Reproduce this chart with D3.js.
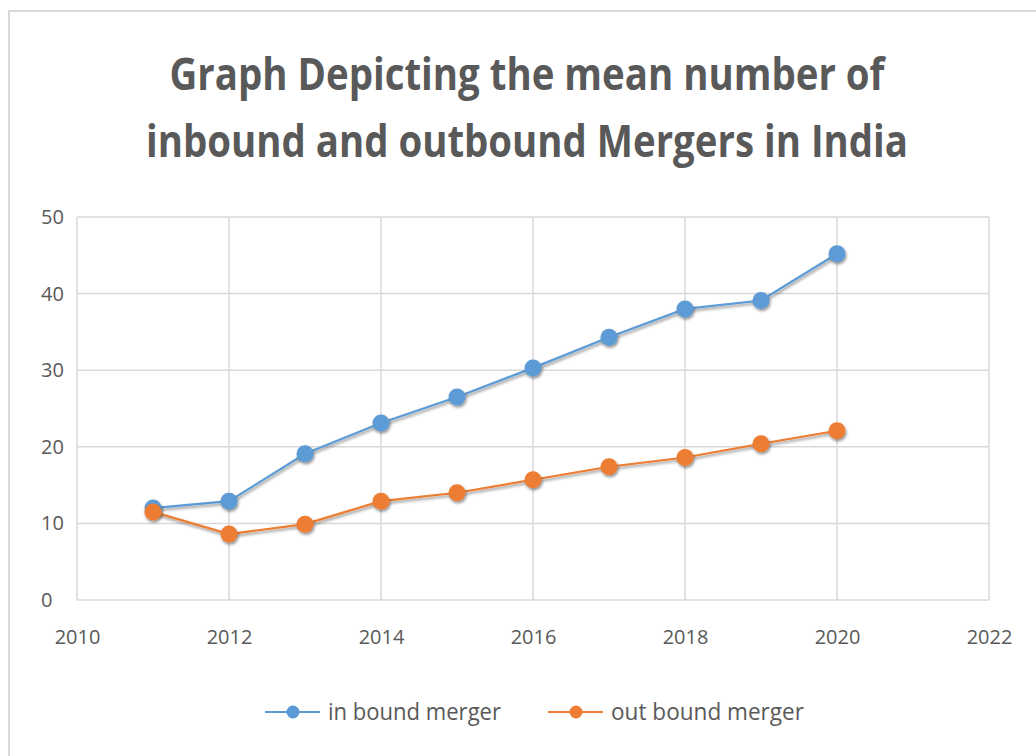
<!DOCTYPE html>
<html>
<head>
<meta charset="utf-8">
<script src="https://cdn.jsdelivr.net/npm/d3@7"></script>
<style>
  body { margin: 0; background: #fff; }
  text { font-family: "Open Sans", "DejaVu Sans", sans-serif; fill: #595959; }
</style>
</head>
<body>
<svg id="chart" width="1036" height="756"></svg>
<script>
var years = [2011, 2012, 2013, 2014, 2015, 2016, 2017, 2018, 2019, 2020];
var inbound = [12, 12.9, 19.1, 23.1, 26.5, 30.3, 34.3, 38, 39.1, 45.2];
var outbound = [11.5, 8.6, 9.9, 12.9, 14, 15.7, 17.4, 18.6, 20.4, 22.1];
var xTicks = [2010, 2012, 2014, 2016, 2018, 2020, 2022];
var yTicks = [0, 10, 20, 30, 40, 50];
var titleLines = ["Graph Depicting the mean number of", "inbound and outbound  Mergers in India"];
var seriesNames = ["in bound merger", "out bound merger"];

var blue = "#5b9bd5", orange = "#ed7d31";
var margin = {top: 217, right: 47, bottom: 156, left: 77};
var width = 1036, height = 756;

var svg = d3.select("#chart");

var defs = svg.append("defs");
var f = defs.append("filter").attr("id", "shadow")
  .attr("x", "-50%").attr("y", "-50%").attr("width", "200%").attr("height", "200%");
f.append("feDropShadow").attr("dx", 1).attr("dy", 2).attr("stdDeviation", 1.6)
  .attr("flood-color", "#000").attr("flood-opacity", 0.45);

// outer chart border
svg.append("rect")
  .attr("x", 9).attr("y", 11)
  .attr("width", width).attr("height", height)
  .attr("fill", "none").attr("stroke", "#d9d9d9").attr("stroke-width", 2);

var x = d3.scaleLinear().domain([2010, 2022]).range([margin.left, width - margin.right]);
var y = d3.scaleLinear().domain([0, 50]).range([height - margin.bottom, margin.top]);

// title (condensed, like the original Calibri)
var titleWidths = [715, 762];
svg.append("g").selectAll("text")
  .data(titleLines)
  .enter().append("text")
  .attr("x", 527)
  .attr("y", function(d, i) { return 90 + i * 67; })
  .attr("text-anchor", "middle")
  .attr("textLength", function(d, i) { return titleWidths[i]; })
  .attr("lengthAdjust", "spacingAndGlyphs")
  .style("font-size", "44px")
  .style("font-weight", "bold")
  .style("fill", "#595959")
  .text(function(d) { return d; });

// grid
var grid = svg.append("g").attr("stroke", "#d9d9d9").attr("stroke-width", 1.5);
grid.selectAll(".gx").data(xTicks).enter().append("line")
  .attr("x1", function(d) { return x(d); }).attr("x2", function(d) { return x(d); })
  .attr("y1", y(0)).attr("y2", y(50));
grid.selectAll(".gy").data(yTicks).enter().append("line")
  .attr("x1", x(2010)).attr("x2", x(2022))
  .attr("y1", function(d) { return y(d); }).attr("y2", function(d) { return y(d); });

// axes
var xAxis = svg.append("g")
  .attr("transform", "translate(0," + y(0) + ")")
  .call(d3.axisBottom(x).tickValues(xTicks).tickFormat(d3.format("d")).tickSize(0).tickPadding(30));
var yAxis = svg.append("g")
  .attr("transform", "translate(" + x(2010) + ",0)")
  .call(d3.axisLeft(y).tickValues(yTicks).tickSize(0).tickPadding(24));
[xAxis, yAxis].forEach(function(a) {
  a.select(".domain").remove();
  a.selectAll("text").style("font-size", "20px").attr("fill", "#595959");
});
yAxis.selectAll("text").attr("text-anchor", "start").attr("x", -36);

// series
var series = [
  {name: seriesNames[0], values: inbound, color: blue},
  {name: seriesNames[1], values: outbound, color: orange}
];
var line = d3.line()
  .x(function(d, i) { return x(years[i]); })
  .y(function(d) { return y(d); });

series.forEach(function(s) {
  var g = svg.append("g");
  g.append("path")
    .datum(s.values)
    .attr("d", line)
    .attr("fill", "none")
    .attr("stroke", s.color)
    .attr("stroke-width", 2.2)
    .attr("filter", "url(#shadow)");
  g.selectAll("circle").data(s.values).enter().append("circle")
    .attr("cx", function(d, i) { return x(years[i]); })
    .attr("cy", function(d) { return y(d); })
    .attr("r", 8.5)
    .attr("fill", s.color)
    .attr("filter", "url(#shadow)");
});

// legend
var legendX = [265, 548];
var legendW = [173, 193];
var leg = svg.append("g").selectAll("g").data(series).enter().append("g")
  .attr("transform", function(d, i) { return "translate(" + legendX[i] + ",712)"; });
leg.append("line").attr("x1", 0).attr("x2", 55).attr("y1", 0).attr("y2", 0)
  .attr("stroke", function(d) { return d.color; }).attr("stroke-width", 2.2);
leg.append("circle").attr("cx", 28).attr("cy", 0).attr("r", 6.5)
  .attr("fill", function(d) { return d.color; });
leg.append("text").attr("x", 63).attr("y", 8)
  .attr("textLength", function(d, i) { return legendW[i]; })
  .attr("lengthAdjust", "spacingAndGlyphs")
  .style("font-size", "23px")
  .text(function(d) { return d.name; });
</script>
</body>
</html>
